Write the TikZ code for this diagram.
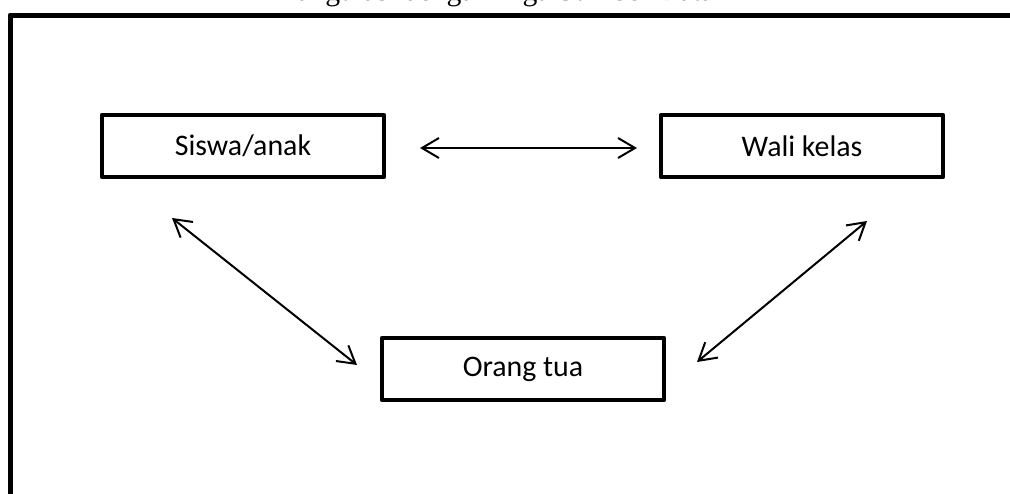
\documentclass[tikz,border=0pt]{standalone}
\usepackage{fontspec}
\setmainfont{Liberation Serif}
\newfontfamily\boxfont{Carlito}
\usetikzlibrary{arrows.meta}
\begin{document}
\begin{tikzpicture}[x=0.75pt,y=-0.75pt,
  box/.style={draw, line width=3.4pt, line join=round, minimum width=211.5pt,
    minimum height=46.5pt, inner sep=0pt, font=\boxfont\fontsize{22.4}{26}\selectfont},
  tip/.tip={Straight Barb[length=12.75pt,width=15pt]},
  link/.style={line width=1.5pt, tip-tip},
  frame/.style={line width=3.75pt, line join=round}]
\path[use as bounding box] (0,0) rectangle (1010,493);
\clip (0,0) rectangle (1010,493);
\node[anchor=base, font=\fontsize{22.3}{26}\selectfont] (title) at (488,0) {Triangulasi dengan Tiga Sumber Data};
\draw[frame] (10,530) -- (10,15) -- (1040,15);
\node[box] (s) at (243,146) {Siswa/anak};
\node[box] (w) at (802,146) {Wali kelas};
\node[box] (o) at (523,369) {Orang tua};
\draw[link] ([shift={(177,2)}]s.center) -- ([shift={(-165,2)}]w.center);
\draw[link] ([shift={(-71,72)}]s.center) -- ([shift={(-166,-4)}]o.center);
\draw[link] ([shift={(65,75)}]w.center) -- ([shift={(174,-7)}]o.center);
\end{tikzpicture}
\end{document}
